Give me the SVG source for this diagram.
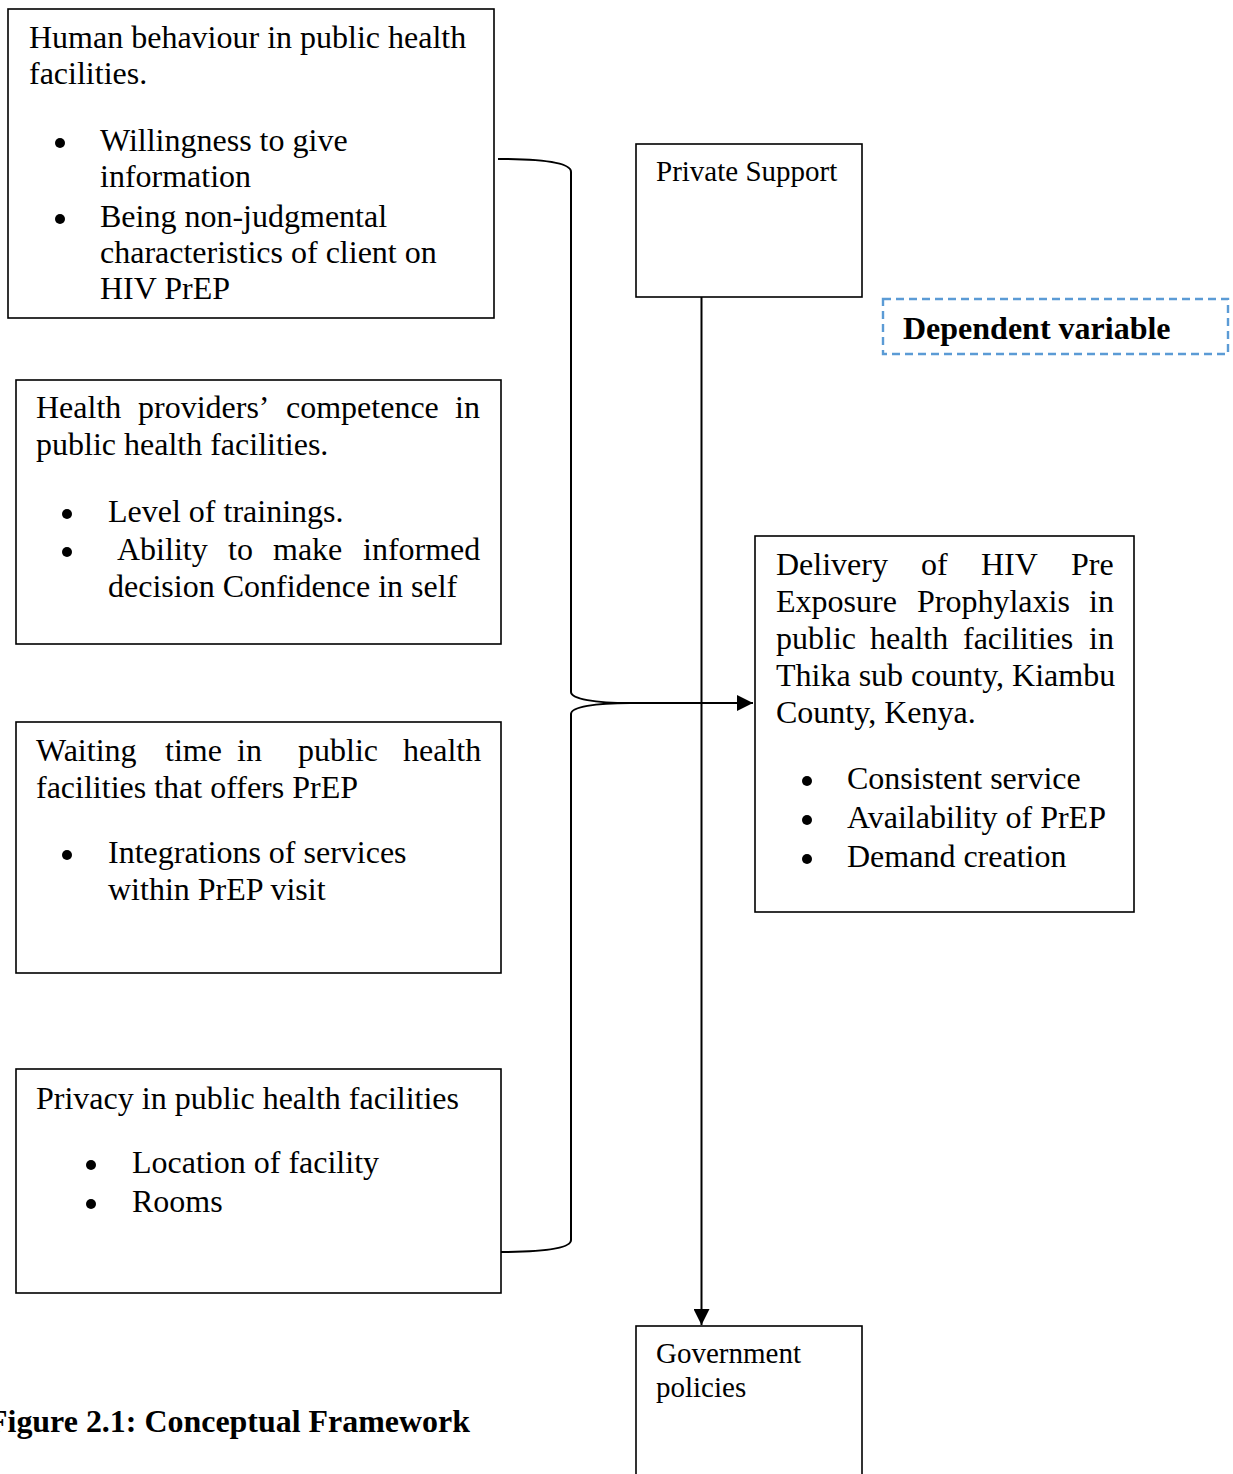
<svg xmlns="http://www.w3.org/2000/svg" width="1233" height="1474" viewBox="0 0 1233 1474">
<style>
.box{fill:#fff;stroke:#000;stroke-width:1.6}
.t{font-family:"Liberation Serif","Times New Roman",serif;font-size:32px;fill:#000}
.s{font-family:"Liberation Serif","Times New Roman",serif;font-size:29px;fill:#000}
.b{font-weight:bold}
.ln{fill:none;stroke:#000;stroke-width:2}
.dot{fill:#000}
</style>
<defs>
<marker id="ah" viewBox="0 0 16 16" refX="16" refY="8" markerWidth="16" markerHeight="16" markerUnits="userSpaceOnUse" orient="auto">
<path d="M0,0 L16,8 L0,16 Z" fill="#000"/>
</marker>
</defs>
<rect width="1233" height="1474" fill="#fff"/>

<g id="connectors">
<path class="ln" d="M498,159 C545,159 571,163 571,172 L571,692 C571,699 595,703 630,703 L753,703" marker-end="url(#ah)"/>
<path class="ln" d="M630,703 C595,703 571,707 571,714 L571,1240 C571,1248 545,1252 498,1252"/>
<path class="ln" d="M701.5,297 L701.5,1325" marker-end="url(#ah)"/>
</g>

<g id="human-behaviour">
<rect class="box" x="8" y="9" width="486" height="309"/>
<text class="t" x="29" y="48">Human behaviour in public health</text>
<text class="t" x="29" y="84">facilities.</text>
<circle class="dot" cx="60" cy="143" r="5"/>
<text class="t" x="100" y="151">Willingness to give</text>
<text class="t" x="100" y="187">information</text>
<circle class="dot" cx="60" cy="219" r="5"/>
<text class="t" x="100" y="227">Being non-judgmental</text>
<text class="t" x="100" y="263">characteristics of client on</text>
<text class="t" x="100" y="299">HIV PrEP</text>
</g>

<g id="competence">
<rect class="box" x="16" y="380" width="485" height="264"/>
<text class="t" y="418"><tspan x="36">Health</tspan><tspan x="138">providers’</tspan><tspan x="286">competence</tspan><tspan x="455">in</tspan></text>
<text class="t" x="36" y="455">public health facilities.</text>
<circle class="dot" cx="67" cy="514" r="5"/>
<text class="t" x="108" y="522">Level of trainings.</text>
<circle class="dot" cx="67" cy="552" r="5"/>
<text class="t" y="560"><tspan x="117">Ability</tspan><tspan x="228">to</tspan><tspan x="273">make</tspan><tspan x="363">informed</tspan></text>
<text class="t" x="108" y="597">decision Confidence in self</text>
</g>

<g id="waiting-time">
<rect class="box" x="16" y="722" width="485" height="251"/>
<text class="t" y="761"><tspan x="36">Waiting</tspan><tspan x="165">time</tspan><tspan x="237">in</tspan><tspan x="298">public</tspan><tspan x="403">health</tspan></text>
<text class="t" x="36" y="798">facilities that offers PrEP</text>
<circle class="dot" cx="67" cy="855" r="5"/>
<text class="t" x="108" y="863">Integrations of services</text>
<text class="t" x="108" y="900">within PrEP visit</text>
</g>

<g id="privacy">
<rect class="box" x="16" y="1069" width="485" height="224"/>
<text class="t" x="36" y="1109">Privacy in public health facilities</text>
<circle class="dot" cx="91" cy="1165" r="5"/>
<text class="t" x="132" y="1173">Location of facility</text>
<circle class="dot" cx="91" cy="1204" r="5"/>
<text class="t" x="132" y="1212">Rooms</text>
</g>

<g id="private-support">
<rect class="box" x="636" y="144" width="226" height="153"/>
<text class="s" x="656" y="181">Private Support</text>
</g>

<g id="dependent-variable">
<rect x="883" y="299" width="345" height="55" fill="none" stroke="#5B9BD5" stroke-width="2.4" stroke-dasharray="8,5"/>
<text class="t b" x="903" y="339">Dependent variable</text>
</g>

<g id="delivery">
<rect class="box" x="755" y="536" width="379" height="376"/>
<text class="t" y="575"><tspan x="776">Delivery</tspan><tspan x="921">of</tspan><tspan x="981">HIV</tspan><tspan x="1071">Pre</tspan></text>
<text class="t" y="612"><tspan x="776">Exposure</tspan><tspan x="917">Prophylaxis</tspan><tspan x="1089">in</tspan></text>
<text class="t" y="649"><tspan x="776">public</tspan><tspan x="870">health</tspan><tspan x="963">facilities</tspan><tspan x="1089">in</tspan></text>
<text class="t" x="776" y="686">Thika sub county, Kiambu</text>
<text class="t" x="776" y="723">County, Kenya.</text>
<circle class="dot" cx="807" cy="781" r="5"/>
<text class="t" x="847" y="789">Consistent service</text>
<circle class="dot" cx="807" cy="820" r="5"/>
<text class="t" x="847" y="828">Availability of PrEP</text>
<circle class="dot" cx="807" cy="859" r="5"/>
<text class="t" x="847" y="867">Demand creation</text>
</g>

<g id="government">
<rect class="box" x="636" y="1326" width="226" height="160"/>
<text class="s" x="656" y="1363">Government</text>
<text class="s" x="656" y="1397">policies</text>
</g>

<g id="caption">
<text class="t b" x="-12" y="1432" textLength="482" lengthAdjust="spacingAndGlyphs">Figure 2.1: Conceptual Framework</text>
</g>
</svg>
